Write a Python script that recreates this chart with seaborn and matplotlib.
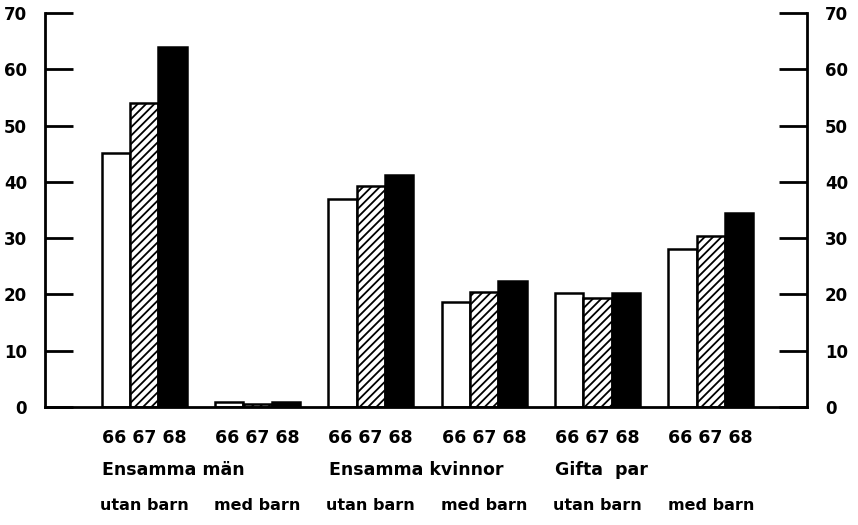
import pandas as pd
import seaborn as sns
import matplotlib.pyplot as plt
from matplotlib.transforms import blended_transform_factory

# household types (order on the x axis)
groups = ["män utan barn", "män med barn", "kvinnor utan barn",
          "kvinnor med barn", "par utan barn", "par med barn"]
years = ["66", "67", "68"]
v66 = [45.1, 0.8, 36.9, 18.6, 20.2, 28.1]
v67 = [54.0, 0.6, 39.3, 20.4, 19.4, 30.4]
v68 = [63.9, 0.8, 41.2, 22.4, 20.2, 34.5]

main_labels = ["Ensamma män", "Ensamma kvinnor", "Gifta  par"]
main_label_pos = [0, 2, 4]
sub_labels = ["utan barn", "med barn", "utan barn", "med barn", "utan barn", "med barn"]
y_ticks = [0, 10, 20, 30, 40, 50, 60, 70]


def make_df():
    rows = []
    for vals, yr in zip([v66, v67, v68], years):
        for g, v in zip(groups, vals):
            rows.append({"group": g, "year": yr, "value": v})
    return pd.DataFrame(rows)


def main():
    sns.set_style("white")
    plt.rcParams["font.family"] = ["DejaVu Sans"]
    plt.rcParams["hatch.linewidth"] = 1.3
    plt.rcParams["text.color"] = "black"

    df = make_df()
    fig = plt.figure(figsize=(8.58, 5.25), dpi=100)
    ax = fig.add_axes([45 / 858, 1 - 407 / 525, (807 - 45) / 858, 394 / 525])

    sns.barplot(data=df, x="group", y="value", hue="year", order=groups,
                hue_order=years, palette=["white", "white", "black"],
                width=0.75, gap=0, edgecolor="black", linewidth=1.8,
                saturation=1, legend=False, ax=ax)
    for bar in ax.containers[1]:
        bar.set_hatch("////")

    ax.set_xlim(-0.875, 5.85)
    ax.set_ylim(0, 70)
    ax.set_yticks(y_ticks)
    ax.set_xlabel("")
    ax.set_ylabel("")

    for side in ["left", "right", "bottom"]:
        ax.spines[side].set_visible(True)
        ax.spines[side].set_linewidth(2)
        ax.spines[side].set_color("black")
    ax.spines["top"].set_visible(False)

    ax.tick_params(axis="y", which="both", direction="in", length=20, width=2,
                   left=True, right=True, labelleft=True, labelright=True,
                   labelsize=12, pad=13, colors="black")
    for lbl in ax.get_yticklabels():
        lbl.set_fontweight("bold")
    ax.tick_params(axis="x", length=0, pad=16, labelsize=12.5, colors="black")
    ax.set_xticks(range(len(groups)))
    ax.set_xticklabels(["66 67 68"] * len(groups), fontweight="bold")

    trans = blended_transform_factory(ax.transData, ax.transAxes)
    for lbl, p in zip(main_labels, main_label_pos):
        ax.text(p - 0.37, -0.16, lbl, transform=trans, ha="left", va="center",
                fontsize=12.5, fontweight="bold", color="black")
    for i, lbl in enumerate(sub_labels):
        ax.text(i, -0.251, lbl, transform=trans, ha="center", va="center",
                fontsize=11.5, fontweight="bold", color="black")

    fig.savefig("out.png", dpi=100)
    plt.close()


if __name__ == '__main__':
    main()
